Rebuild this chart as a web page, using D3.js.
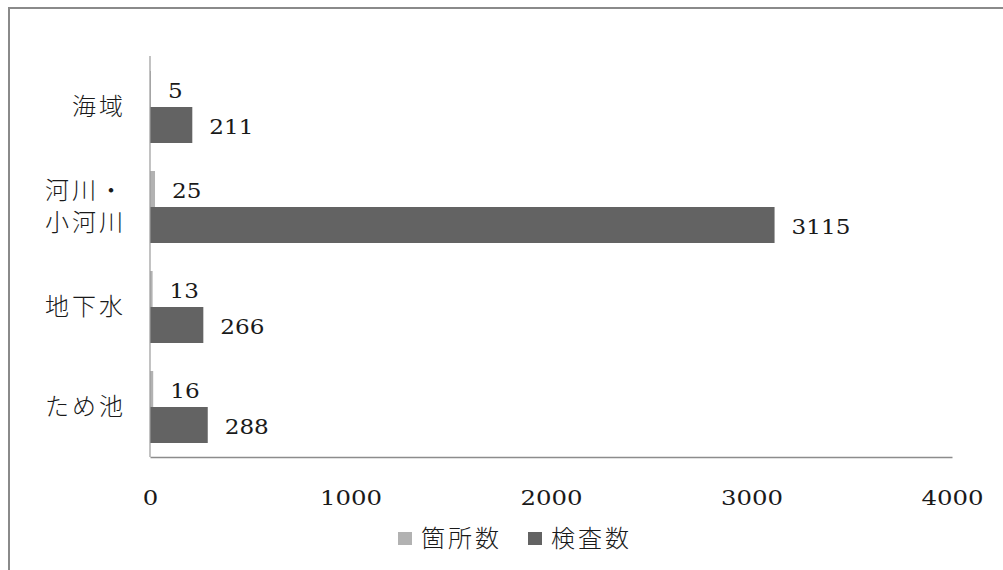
<!DOCTYPE html>
<html>
<head>
<meta charset="utf-8">
<script src="https://cdn.jsdelivr.net/npm/d3@7"></script>
<style>
  html, body { margin: 0; padding: 0; background: #fff; }
  svg { display: block; }
</style>
</head>
<body>
<svg id="chart" width="1003" height="570"></svg>
<script>
// Water sampling: number of sites and number of tests by water body type
const categories = ["海域", "河川・小河川", "地下水", "ため池"];
const categoryLines = [["海域"], ["河川・", "小河川"], ["地下水"], ["ため池"]];
const seriesNames = ["箇所数", "検査数"];
const siteCounts = [5, 25, 13, 16];
const testCounts = [211, 3115, 266, 288];
const xTicks = [0, 1000, 2000, 3000, 4000];

const seriesValues = [siteCounts, testCounts];
const seriesColors = ["#b2b2b2", "#636363"];

const svg = d3.select("#chart");
const numFont = "'DejaVu Serif', 'Liberation Serif', serif";
const cjkFont = "'Noto Sans CJK JP', 'Noto Sans', sans-serif";

// Wide serif digits: stretch each numeric label to a fixed advance per character
function widen(sel, perChar) {
  sel.each(function () {
    const s = String(d3.select(this).text());
    d3.select(this)
      .attr("textLength", s.length * perChar)
      .attr("lengthAdjust", "spacingAndGlyphs");
  });
}

// Outer chart frame
svg.append("rect")
  .attr("x", 9).attr("y", 8)
  .attr("width", 1010).attr("height", 600)
  .attr("fill", "none")
  .attr("stroke", "#8a8a8a")
  .attr("stroke-width", 2);

const x = d3.scaleLinear().domain([0, 4000]).range([150, 952]);
const y = d3.scaleBand().domain(categories).range([57, 457])
  .paddingInner(0.28).paddingOuter(0.14);
const ySub = d3.scaleBand().domain(seriesNames).range([0, y.bandwidth()]);

// Bars, one group per category
const rows = categories.map((c, i) => ({
  cat: c,
  values: seriesNames.map((s, j) => ({ series: s, value: seriesValues[j][i], color: seriesColors[j] }))
}));

const groups = svg.append("g").selectAll("g")
  .data(rows).join("g")
  .attr("transform", d => `translate(0,${y(d.cat)})`);

groups.selectAll("rect")
  .data(d => d.values).join("rect")
  .attr("x", x(0))
  .attr("y", d => ySub(d.series))
  .attr("width", d => x(d.value) - x(0))
  .attr("height", ySub.bandwidth())
  .attr("fill", d => d.color);

groups.selectAll("text")
  .data(d => d.values).join("text")
  .attr("x", d => x(d.value) + 17)
  .attr("y", d => ySub(d.series) + ySub.bandwidth() / 2 + 9)
  .attr("font-family", numFont)
  .attr("font-size", 20)
  .attr("fill", "#1a1a1a")
  .text(d => d.value)
  .call(widen, 14.7);

// Value axis labels (no tick marks)
const xAxis = d3.axisBottom(x).tickValues(xTicks).tickSize(0).tickPadding(0).tickFormat(d3.format("d"));
const xg = svg.append("g").attr("transform", "translate(0,457)").call(xAxis);
xg.select(".domain").attr("stroke", "#8c8c8c").attr("stroke-width", 1.5);
xg.selectAll("text")
  .attr("dy", null)
  .attr("y", 48)
  .attr("font-family", numFont)
  .attr("font-size", 21)
  .attr("fill", "#1a1a1a")
  .call(widen, 15.5);

// Category axis line
svg.append("line")
  .attr("x1", x(0)).attr("x2", x(0))
  .attr("y1", 56).attr("y2", 457)
  .attr("stroke", "#9a9a9a").attr("stroke-width", 1.2);

// Category labels
const catLabels = svg.append("g");
categories.forEach((c, i) => {
  const lines = categoryLines[i];
  const cy = y(c) + y.bandwidth() / 2;
  const lh = 32;
  const t = catLabels.append("text")
    .attr("text-anchor", "end")
    .attr("font-family", cjkFont)
    .attr("font-size", 24)
    .attr("font-weight", 300)
    .attr("letter-spacing", 3)
    .attr("fill", "#1a1a1a");
  lines.forEach((ln, k) => {
    t.append("tspan")
      .attr("x", 126)
      .attr("y", cy + (k - (lines.length - 1) / 2) * lh + 8)
      .text(ln);
  });
});

// Legend
const legendItems = [
  { name: seriesNames[0], color: seriesColors[0], x: 398 },
  { name: seriesNames[1], color: seriesColors[1], x: 528 }
];
const lg = svg.append("g");
legendItems.forEach(it => {
  lg.append("rect")
    .attr("x", it.x).attr("y", 532)
    .attr("width", 14).attr("height", 13)
    .attr("fill", it.color);
  lg.append("text")
    .attr("x", it.x + 23).attr("y", 547)
    .attr("font-family", cjkFont)
    .attr("font-size", 24)
    .attr("font-weight", 300)
    .attr("letter-spacing", 3)
    .attr("fill", "#1a1a1a")
    .text(it.name);
});
</script>
</body>
</html>
